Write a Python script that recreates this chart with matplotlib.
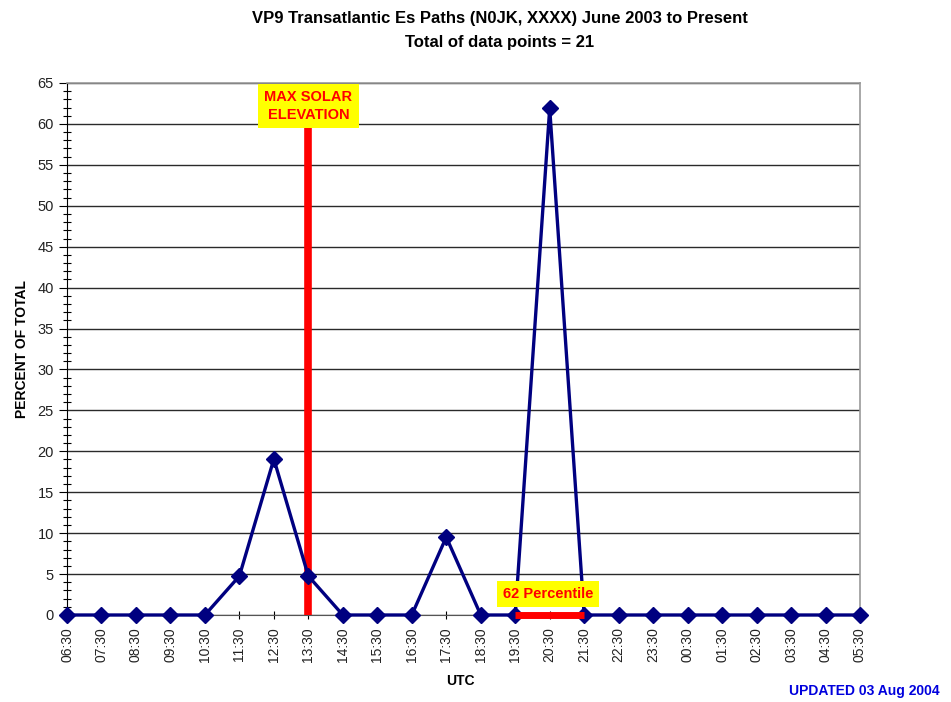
import matplotlib
matplotlib.use("Agg")
import matplotlib.pyplot as plt
from matplotlib.ticker import MultipleLocator

times = ["06:30", "07:30", "08:30", "09:30", "10:30", "11:30", "12:30", "13:30",
         "14:30", "15:30", "16:30", "17:30", "18:30", "19:30", "20:30", "21:30",
         "22:30", "23:30", "00:30", "01:30", "02:30", "03:30", "04:30", "05:30"]
percent = [0, 0, 0, 0, 0, 4.76, 19.05, 4.76,
           0, 0, 0, 9.52, 0, 0, 61.9, 0,
           0, 0, 0, 0, 0, 0, 0, 0]
max_solar_time = "13:30"
max_solar_top = 60
percentile_start = "19:30"
percentile_end = "21:30"

plt.rcParams['font.family'] = ['Liberation Sans', 'DejaVu Sans']

fig = plt.figure(figsize=(9.51, 7.02), dpi=100)
ax = fig.add_axes([67/951, 1-615/702, (860-67)/951, (615-83)/702])

x = list(range(len(times)))

# grid
ax.set_ylim(0, 65)
ax.set_xlim(0, len(times)-1)
ax.yaxis.set_major_locator(MultipleLocator(5))
ax.yaxis.set_minor_locator(MultipleLocator(1))
ax.grid(axis='y', which='major', color='#2a2a2a', linewidth=1.0)
ax.set_axisbelow(True)

# red max solar elevation line
xs = times.index(max_solar_time)
ax.plot([xs, xs], [0, max_solar_top], color='#ff0000', linewidth=5.5, solid_capstyle='butt', zorder=4)

# data line
ax.plot(x, percent, color='#000080', linewidth=2.4, marker='D', markersize=8,
        markerfacecolor='#000080', markeredgecolor='#000080', clip_on=False, zorder=5)

# percentile bar
p0 = times.index(percentile_start); p1 = times.index(percentile_end)
ax.plot([p0, p1], [0, 0], color='#ff0000', linewidth=5, solid_capstyle='butt', zorder=6, clip_on=False)

ax.set_xticks(x)
ax.set_xticklabels(times, rotation=90, fontsize=10, color='#222222')
ax.tick_params(axis='x', direction='inout', length=6, width=0.8, pad=6)
ax.tick_params(axis='y', which='major', direction='out', length=6, width=0.8, labelsize=10.5, labelcolor='#222222')
ax.tick_params(axis='y', which='minor', direction='inout', length=6, width=0.8)

for side in ['top', 'right']:
    ax.spines[side].set_color('#999999')
    ax.spines[side].set_linewidth(1.2)
ax.spines['left'].set_color('#000000')
ax.spines['bottom'].set_color('#555555')

# annotations
ax.text(xs, 62.2, "MAX SOLAR\nELEVATION", ha='center', va='center', color='#ff0000',
        fontsize=10.5, fontweight='bold', linespacing=1.3, zorder=7,
        bbox=dict(boxstyle='square,pad=0.45', facecolor='#ffff00', edgecolor='none'))
ax.text((p0+p1)/2 - 0.05, 2.55, "62 Percentile", ha='center', va='center', color='#ff0000',
        fontsize=10.5, fontweight='bold', zorder=7,
        bbox=dict(boxstyle='square,pad=0.4', facecolor='#ffff00', edgecolor='none'))

fig.text(500/951, 1-18/702, "VP9 Transatlantic Es Paths (N0JK, XXXX) June 2003 to Present",
         ha='center', va='center', fontsize=12, fontweight='bold')
fig.text(500/951, 1-42/702, "Total of data points = 21",
         ha='center', va='center', fontsize=12, fontweight='bold')
fig.text(22/951, 1-349/702, "PERCENT OF TOTAL", rotation=90, ha='center', va='center',
         fontsize=10, fontweight='bold')
fig.text(460/951, 1-681/702, "UTC", ha='center', va='center', fontsize=10, fontweight='bold')
fig.text(940/951, 1-691/702, "UPDATED 03 Aug 2004", ha='right', va='center', fontsize=10,
         fontweight='bold', color='#0000dd')

fig.savefig("out.png", dpi=100)
